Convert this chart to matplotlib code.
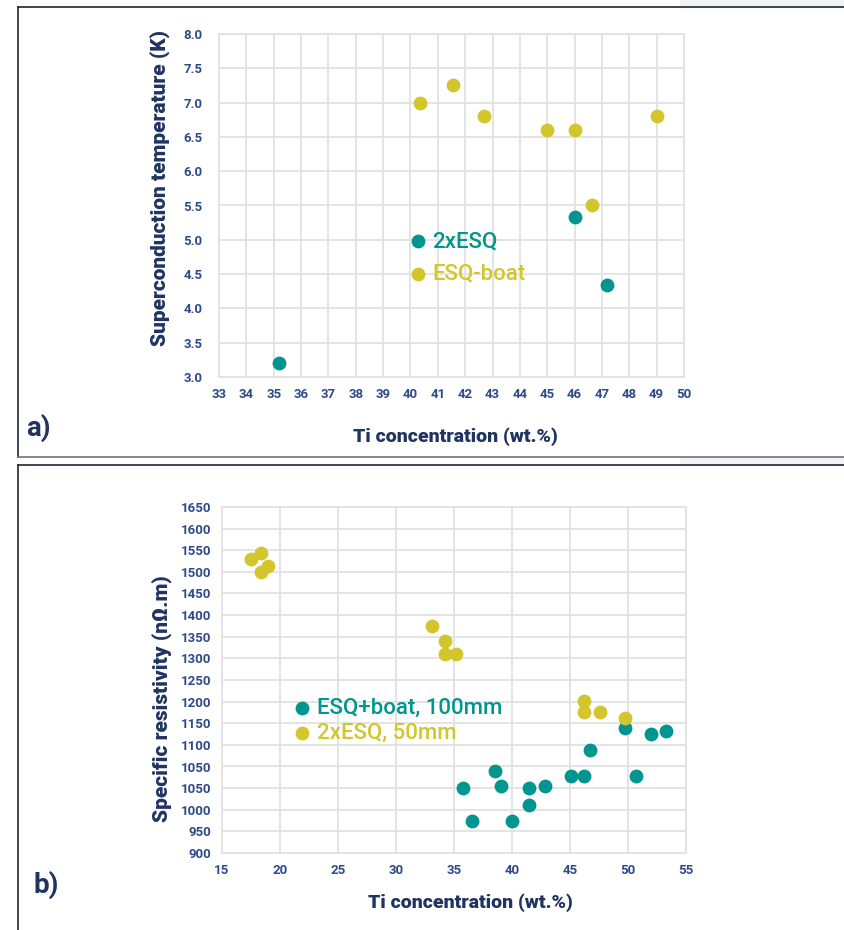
import matplotlib.pyplot as plt
import numpy as np
from matplotlib.lines import Line2D
from matplotlib.patches import Rectangle

# colours
TEAL = "#00968f"
YELLOW = "#d3c62c"
NAVY = "#2d4a8a"
DARK = "#1f3461"
GRID = "#e2e2e2"

plt.rcParams["font.family"] = ["Roboto", "DejaVu Sans"]

# panel a) data
ti_a_esq2 = [35.2, 46.0, 47.2]
tc_a_esq2 = [3.20, 5.33, 4.34]
ti_a_boat = [40.35, 41.55, 42.7, 45.0, 46.0, 49.0, 46.65]
tc_a_boat = [7.00, 7.25, 6.80, 6.60, 6.60, 6.80, 5.50]

# panel b) data (y in axis units, tick labels as printed)
ti_b_boat = [35.8, 36.55, 38.55, 39.05, 40.0, 41.45, 41.45, 42.85, 45.05,
             46.2, 46.7, 49.75, 50.7, 52.0, 53.3]
rho_b_boat = [1051, 975, 1090, 1054, 975, 1051, 1010, 1054, 1078,
              1078, 1137, 1190, 1079, 1175, 1183]
ti_b_esq = [17.5, 18.35, 18.35, 18.95, 33.1, 34.2, 34.2, 35.2,
            46.2, 46.2, 47.55, 49.75]
rho_b_esq = [1580, 1593, 1549, 1563, 1425, 1390, 1360, 1360,
             1251, 1225, 1225, 1212]
ytick_labels_b = ["900", "950", "1000", "1050", "1050", "1100", "1150", "1200",
                  "1250", "1300", "1350", "1400", "1450", "1500", "1550",
                  "1600", "1650"]

W, H = 845, 930
fig = plt.figure(figsize=(W / 100, H / 100), dpi=100)


def fx(px):
    return px / W


def fy(py):
    return 1 - py / H


def box(left, right, top, bottom):
    return [fx(left), fy(bottom), (right - left) / W, (bottom - top) / H]


def style_axes(ax, pad):
    ax.grid(True, color=GRID, linewidth=1.3)
    ax.set_axisbelow(True)
    for s in ax.spines.values():
        s.set_color(GRID)
        s.set_linewidth(1.3)
    ax.tick_params(length=0, colors=NAVY, labelsize=9.5)
    ax.tick_params(axis="y", pad=pad)
    ax.tick_params(axis="x", pad=8)
    for lab in ax.get_xticklabels() + ax.get_yticklabels():
        lab.set_fontweight("bold")


LEG = dict(frameon=False, labelcolor="linecolor", handletextpad=0.15,
           borderpad=0, borderaxespad=0, handlelength=1.0,
           prop={"size": 16, "weight": "medium"})

# ---- panel a
ax1 = fig.add_axes(box(219, 684, 34, 377))
ax1.scatter(ti_a_esq2, tc_a_esq2, s=80, color=TEAL, label="2xESQ", zorder=3)
ax1.scatter(ti_a_boat, tc_a_boat, s=80, color=YELLOW, label="ESQ-boat", zorder=3)
ax1.set_xlim(33, 50)
ax1.set_ylim(3.0, 8.0)
ax1.set_xticks(np.arange(33, 51, 1))
ax1.set_yticks(np.arange(3.0, 8.01, 0.5))
ax1.set_yticklabels([f"{v:.1f}" for v in np.arange(3.0, 8.01, 0.5)])
style_axes(ax1, 12)
ax1.set_ylabel("Superconduction temperature (K)", fontsize=15, fontweight="black",
               color=DARK, va="center")
ax1.yaxis.set_label_coords(fx(160), fy(188), transform=fig.transFigure)
ax1.legend(loc="center left", bbox_to_anchor=(fx(407), fy(258)),
           bbox_transform=fig.transFigure, labelspacing=0.52, **LEG)
fig.text(fx(455), fy(437), "Ti concentration (wt.%)", fontsize=14, fontweight="black",
         color=DARK, ha="center", va="center")
fig.text(fx(26), fy(428), "a)", fontsize=20, fontweight="bold", color=DARK,
         ha="left", va="center")

# ---- panel b
ax2 = fig.add_axes(box(222, 686, 507, 853))
ax2.scatter(ti_b_boat, rho_b_boat, s=80, color=TEAL, label="ESQ+boat, 100mm", zorder=3)
ax2.scatter(ti_b_esq, rho_b_esq, s=80, color=YELLOW, label="2xESQ, 50mm", zorder=3)
ax2.set_xlim(15, 55)
ax2.set_ylim(900, 900 + 50 * (len(ytick_labels_b) - 1))
ax2.set_xticks(np.arange(15, 56, 5))
ax2.set_yticks(900 + 50 * np.arange(len(ytick_labels_b)))
ax2.set_yticklabels(ytick_labels_b)
style_axes(ax2, 8)
ax2.set_ylabel("Specific resistivity (n\u03a9.m)", fontsize=15, fontweight="black",
               color=DARK, va="center")
ax2.yaxis.set_label_coords(fx(162), fy(699), transform=fig.transFigure)
ax2.legend(loc="center left", bbox_to_anchor=(fx(291), fy(721)),
           bbox_transform=fig.transFigure, labelspacing=0.16, **LEG)
fig.text(fx(470), fy(903), "Ti concentration (wt.%)", fontsize=14, fontweight="black",
         color=DARK, ha="center", va="center")
fig.text(fx(34), fy(885), "b)", fontsize=20, fontweight="bold", color=DARK,
         ha="left", va="center")

# ---- panel frames
FRAME = "#1c2636"
fig.add_artist(Rectangle((fx(680), fy(7)), fx(165), 7 / H, color="#f0f2f5",
                         transform=fig.transFigure, zorder=0))
fig.add_artist(Rectangle((fx(680), fy(465)), fx(165), 8 / H, color="#f0f2f5",
                         transform=fig.transFigure, zorder=0))
for xs, ys, c in [([18, 845], [7, 7], FRAME),
                  ([18, 18], [7, 457], FRAME),
                  ([18, 845], [457, 457], "#6c7484"),
                  ([18, 845], [465, 465], FRAME),
                  ([18, 18], [465, 930], FRAME)]:
    fig.add_artist(Line2D([fx(x) for x in xs], [fy(y) for y in ys], color=c,
                          linewidth=1.2, transform=fig.transFigure))

fig.savefig("out.png", dpi=100)
